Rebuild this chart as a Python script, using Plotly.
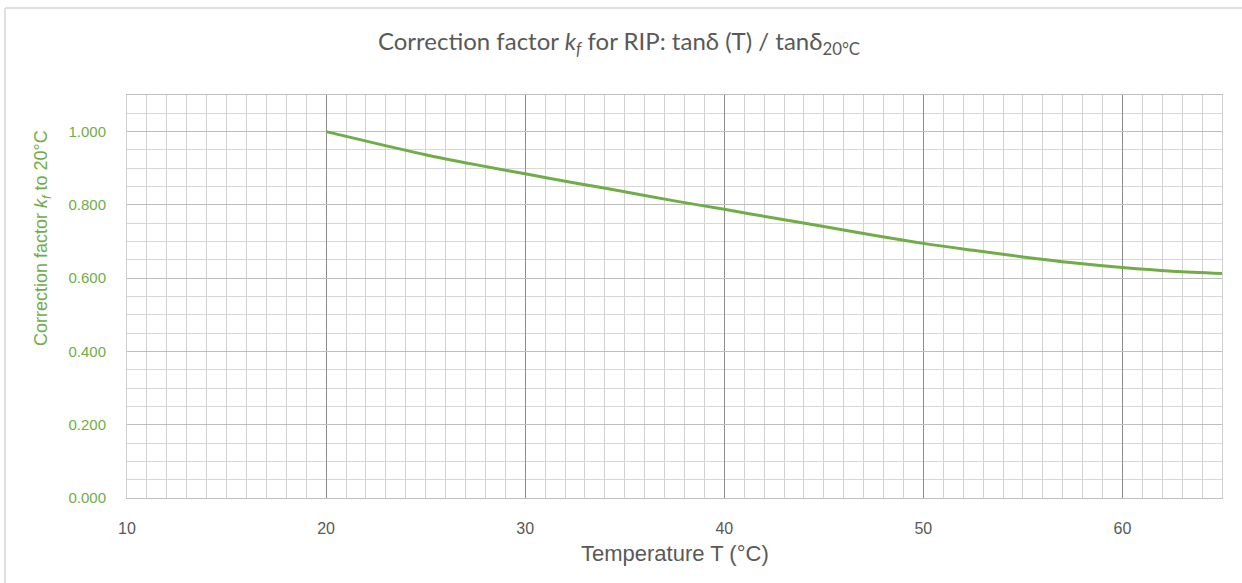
import plotly.graph_objects as go

temperature = [20, 22.5, 25, 27.5, 30, 32.5, 35, 37.5, 40, 42.5, 45, 47.5, 50, 52.5, 55, 57.5, 60, 62.5, 65]
k_factor = [1.000, 0.968, 0.937, 0.910, 0.885, 0.860, 0.836, 0.811, 0.788, 0.764, 0.741, 0.717,
            0.695, 0.676, 0.658, 0.642, 0.629, 0.619, 0.613]
x_ticks = [10, 20, 30, 40, 50, 60]
y_ticks = [0.0, 0.2, 0.4, 0.6, 0.8, 1.0]

GREEN = "#70AD47"
GRAY_TEXT = "#595959"
W, H = 1242, 583
L, R, T, B = 127, 20, 95, 85
PW, PH = W - L - R, H - T - B

fig = go.Figure()
fig.add_trace(go.Scatter(
    x=temperature, y=k_factor, mode="lines",
    line=dict(color=GREEN, width=3, shape="spline", smoothing=1.0),
    showlegend=False, hoverinfo="x+y",
))

fig.update_layout(
    width=W, height=H,
    margin=dict(l=L, r=R, t=T, b=B),
    paper_bgcolor="white", plot_bgcolor="white",
    title=dict(
        text="Correction factor <i>k<sub>f</sub></i> for RIP: tanδ (T) / tanδ<sub>20°C</sub>",
        x=(619) / W, xanchor="center", y=1 - 42 / H, yanchor="middle",
        font=dict(family="Lato, Open Sans, sans-serif", size=24, color=GRAY_TEXT),
    ),
    xaxis=dict(
        range=[10, 65], tickmode="array", tickvals=x_ticks,
        ticktext=[str(v) for v in x_ticks],
        showgrid=True, gridcolor="#8c8c8c", gridwidth=1,
        minor=dict(dtick=1, tick0=10, showgrid=True, gridcolor="#d2d2d2", gridwidth=1, ticks=""),
        showline=True, linecolor="#bfbfbf", linewidth=1, mirror=True,
        zeroline=False, ticks="", ticklabelstandoff=16,
        tickfont=dict(family="Liberation Sans, Arial, sans-serif", size=16, color=GRAY_TEXT),
    ),
    yaxis=dict(
        range=[0, 1.1], tickmode="array", tickvals=y_ticks,
        ticktext=[f"{v:.3f}" for v in y_ticks],
        showgrid=True, gridcolor="#bdbdbd", gridwidth=1,
        minor=dict(dtick=0.05, tick0=0, showgrid=True, gridcolor="#d8d8d8", gridwidth=1, ticks=""),
        showline=True, linecolor="#d0d0d0", linewidth=1, mirror=True,
        zeroline=False, ticks="", ticklabelstandoff=17,
        tickfont=dict(family="Liberation Sans, Arial, sans-serif", size=15, color=GREEN),
    ),
)

# axis titles as annotations, positioned as in the reference
fig.add_annotation(
    text="Temperature T (°C)", xref="paper", yref="paper",
    x=(675 - L) / PW, y=-(553 - (H - B)) / PH, xanchor="center", yanchor="middle",
    showarrow=False,
    font=dict(family="Liberation Sans, Arial, sans-serif", size=22, color=GRAY_TEXT),
)
fig.add_annotation(
    text="Correction factor <i>k<sub>f</sub></i> to 20°C", xref="paper", yref="paper",
    x=(42 - L) / PW, y=((H - B) - 238) / PH, xanchor="center", yanchor="middle",
    textangle=-90, showarrow=False,
    font=dict(family="Liberation Sans, Arial, sans-serif", size=18, color=GREEN),
)

# outer chart frame (light gray), as in the reference
top_y = ((H - B) - 8) / PH
left_x = (5 - L) / PW
fig.add_shape(type="line", xref="paper", yref="paper",
              x0=left_x, x1=(W - L) / PW, y0=top_y, y1=top_y,
              line=dict(color="#e0e0e0", width=2), layer="below")
fig.add_shape(type="line", xref="paper", yref="paper",
              x0=left_x, x1=left_x, y0=top_y, y1=-B / PH,
              line=dict(color="#e0e0e0", width=2), layer="below")

fig.write_html(
    "out.html",
    config={"displayModeBar": False},
    post_script="document.body.style.margin='0';document.body.style.overflow='hidden';",
)
